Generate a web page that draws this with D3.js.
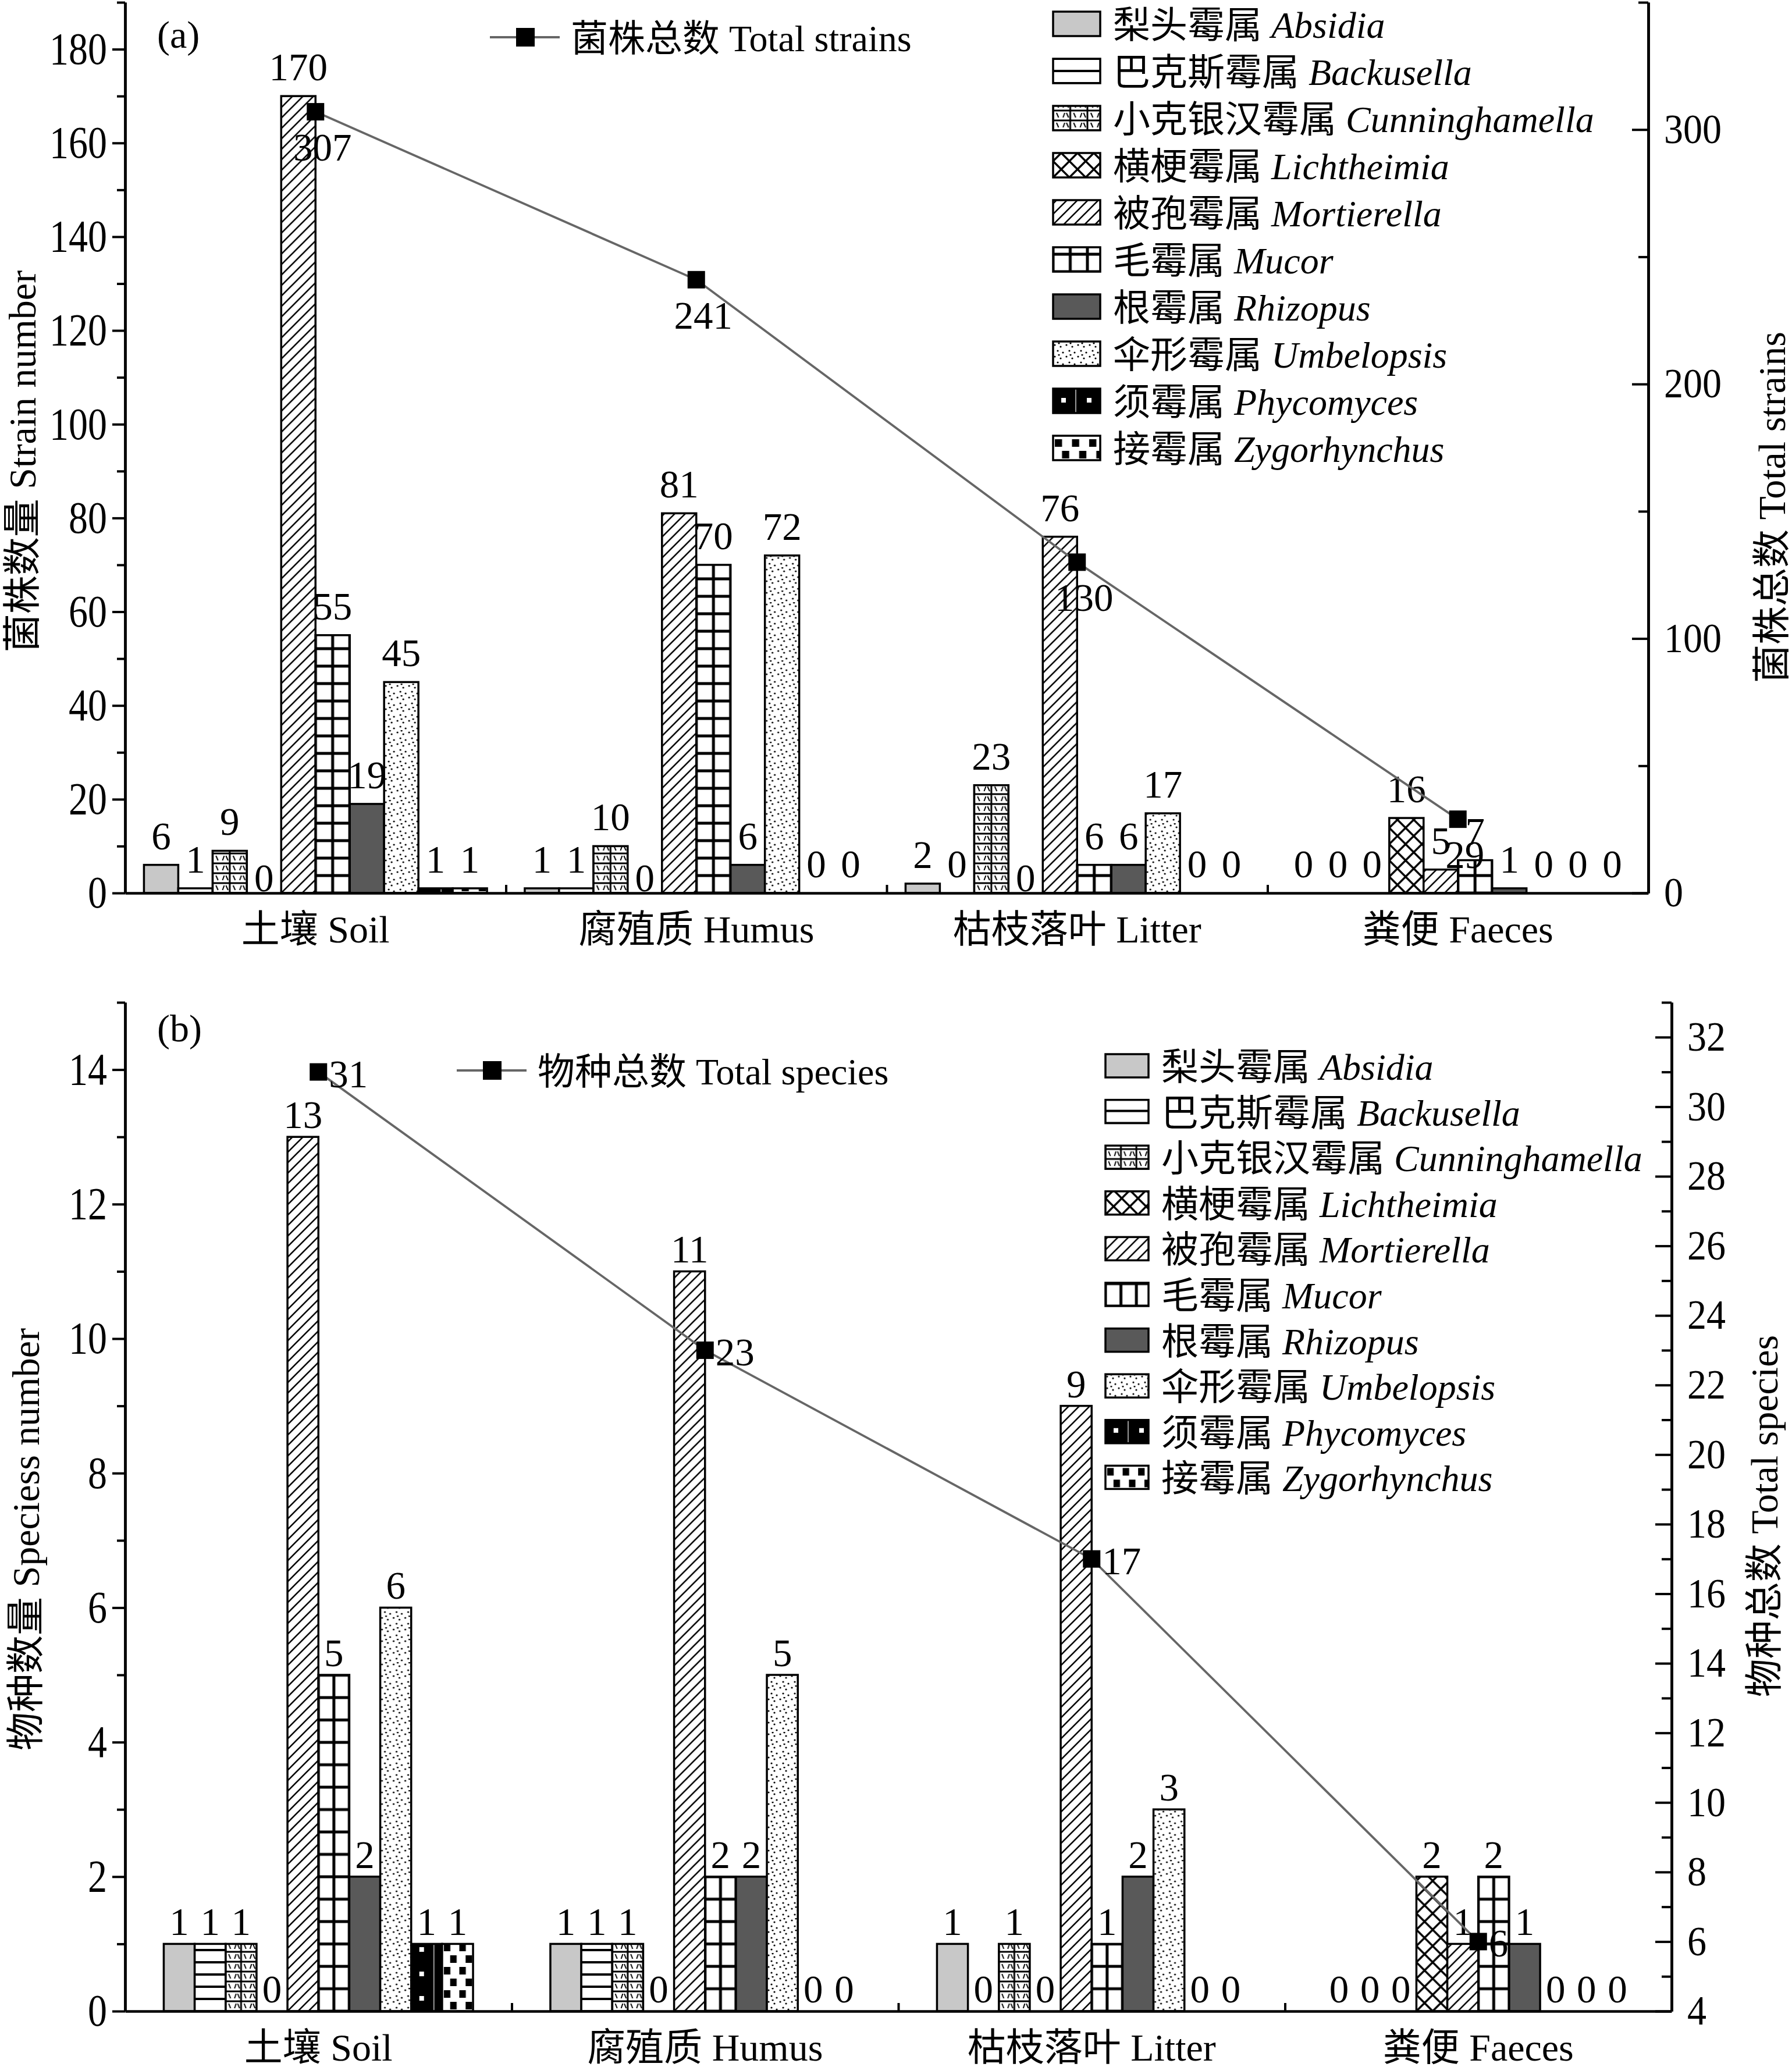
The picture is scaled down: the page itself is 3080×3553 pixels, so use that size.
<!DOCTYPE html>
<html>
<head>
<meta charset="utf-8">
<script src="https://cdn.jsdelivr.net/npm/d3@7"></script>
<style>
body { margin: 0; background: #fff; }
svg { display: block; }
text { font-family: "Liberation Serif", "Times New Roman", "Noto Sans CJK SC", serif; fill: #000; }
</style>
</head>
<body>
<svg id="chart" width="3080" height="3553"></svg>
<script>
// categories
var groups = ["土壤 Soil", "腐殖质 Humus", "枯枝落叶 Litter", "粪便 Faeces"];
var generaCn = ["梨头霉属", "巴克斯霉属", "小克银汉霉属", "横梗霉属", "被孢霉属", "毛霉属", "根霉属", "伞形霉属", "须霉属", "接霉属"];
var generaLatin = ["Absidia", "Backusella", "Cunninghamella", "Lichtheimia", "Mortierella", "Mucor", "Rhizopus", "Umbelopsis", "Phycomyces", "Zygorhynchus"];

// (a) strain numbers, one row per group, one value per genus
var strainCounts = [
  [6, 1, 9, 0, 170, 55, 19, 45, 1, 1],
  [1, 1, 10, 0, 81, 70, 6, 72, 0, 0],
  [2, 0, 23, 0, 76, 6, 6, 17, 0, 0],
  [0, 0, 0, 16, 5, 7, 1, 0, 0, 0]
];
var totalStrains = [307, 241, 130, 29];

// (b) species numbers
var speciesCounts = [
  [1, 1, 1, 0, 13, 5, 2, 6, 1, 1],
  [1, 1, 1, 0, 11, 2, 2, 5, 0, 0],
  [1, 0, 1, 0, 9, 1, 2, 3, 0, 0],
  [0, 0, 0, 2, 1, 2, 1, 0, 0, 0]
];
var totalSpecies = [31, 23, 17, 6];

// tick values
var strainTicks = [0, 20, 40, 60, 80, 100, 120, 140, 160, 180];
var strainMinor = [10, 30, 50, 70, 90, 110, 130, 150, 170, 190];
var totalStrainTicks = [0, 100, 200, 300];
var totalStrainMinor = [50, 150, 250, 350];
var speciesTicks = [0, 2, 4, 6, 8, 10, 12, 14];
var speciesMinor = [1, 3, 5, 7, 9, 11, 13, 15];
var totalSpeciesTicks = [4, 6, 8, 10, 12, 14, 16, 18, 20, 22, 24, 26, 28, 30, 32];
var totalSpeciesMinor = [5, 7, 9, 11, 13, 15, 17, 19, 21, 23, 25, 27, 29, 31, 33];

var svg = d3.select("#chart");
var defs = svg.append("defs");

// fill patterns, origin is the bottom-left of each bar (bars are drawn inside a translated g)
function makePatterns(sfx, bw, gridH) {
  function pat(name, w, h, bg) {
    var p = defs.append("pattern").attr("id", name + "-" + sfx).attr("patternUnits", "userSpaceOnUse")
      .attr("width", w).attr("height", h);
    p.append("rect").attr("width", w).attr("height", h).attr("fill", bg);
    return p;
  }
  // Backusella: horizontal lines
  var p = pat("hl", 20, 21, "#fff");
  p.append("path").attr("d", "M0,0H20M0,21H20").attr("stroke", "#000").attr("stroke-width", 4);
  // Cunninghamella: brick grid with small dashes
  var cw = bw / 2;
  p = pat("cu", cw, 17, "#fff");
  p.append("path").attr("d", "M0,0H" + cw + "M0,17H" + cw + "M0,0V17M" + cw + ",0V17")
    .attr("stroke", "#000").attr("stroke-width", 3);
  p.append("path").attr("d",
      "M" + cw * 0.2 + ",4L" + cw * 0.32 + ",12" +
      "M" + cw * 0.58 + ",12L" + cw * 0.68 + ",4" +
      "M" + cw * 0.78 + ",4L" + cw * 0.9 + ",12")
    .attr("stroke", "#000").attr("stroke-width", 2);
  // Lichtheimia: cross hatch
  p = pat("xh", 28, 28, "#fff");
  p.append("path").attr("d", "M0,0L28,28M28,0L0,28").attr("stroke", "#000").attr("stroke-width", 3.4);
  // Mortierella: diagonal lines
  p = pat("dg", 18, 18, "#fff");
  p.append("path").attr("d", "M0,18L18,0M-5,5L5,-5M13,23L23,13").attr("stroke", "#000").attr("stroke-width", 2.6);
  // Mucor: big grid
  p = pat("gr", cw, gridH, "#fff");
  p.append("path").attr("d", "M0,0H" + cw + "M0," + gridH + "H" + cw + "M0,0V" + gridH + "M" + cw + ",0V" + gridH)
    .attr("stroke", "#000").attr("stroke-width", 5);
  // Umbelopsis: stipple
  p = pat("dt", 20, 20, "#fff");
  [[3, 4], [13, 7], [8, 14], [17, 17], [10, 1]].forEach(function(c) {
    p.append("circle").attr("cx", c[0]).attr("cy", c[1]).attr("r", 1.6).attr("fill", "#000");
  });
  // Phycomyces: black with sparse white squares
  p = pat("ph", 44, 42, "#000");
  p.append("rect").attr("x", 14).attr("y", 16).attr("width", 8).attr("height", 8).attr("fill", "#fff");
  p.append("rect").attr("x", 38).attr("y", 0).attr("width", 2).attr("height", 42).attr("fill", "#fff").attr("opacity", 0.6);
  // Zygorhynchus: black blocks on white
  p = pat("zy", cw, 40, "#fff");
  p.append("rect").attr("x", 3).attr("y", 4).attr("width", cw * 0.42).attr("height", 13).attr("fill", "#000");
  p.append("rect").attr("x", cw * 0.52).attr("y", 24).attr("width", cw * 0.42).attr("height", 13).attr("fill", "#000");

  return ["#c8c8c8", "url(#hl-" + sfx + ")", "url(#cu-" + sfx + ")", "url(#xh-" + sfx + ")",
    "url(#dg-" + sfx + ")", "url(#gr-" + sfx + ")", "#595959", "url(#dt-" + sfx + ")",
    "url(#ph-" + sfx + ")", "url(#zy-" + sfx + ")"];
}

function styleAxis(sel, fs) {
  sel.attr("font-size", fs).attr("font-family", null);
  sel.select(".domain").attr("stroke", "#000").attr("stroke-width", 4.5);
  sel.selectAll(".tick line").attr("stroke", "#000").attr("stroke-width", 4);
}

function drawPanel(p) {
  var g = svg.append("g");
  var x = d3.scaleBand().domain(groups).range([p.x0, p.x1]);
  var xi = d3.scaleBand().domain(generaLatin).range([0, x.bandwidth()]).paddingOuter(p.padOuter);
  var yL = d3.scaleLinear().domain(p.leftDomain).range([p.yBottom, p.yTop]);
  var yR = d3.scaleLinear().domain(p.rightDomain).range([p.yBottom, p.yTop]);
  var bw = xi.bandwidth();
  var fills = makePatterns(p.id, bw, p.gridH);

  var cells = [];
  p.counts.forEach(function(row, i) {
    row.forEach(function(v, j) { cells.push({ g: groups[i], j: j, v: v }); });
  });

  // bars
  g.selectAll(".bar").data(cells.filter(function(d) { return d.v > 0; })).enter()
    .append("g").attr("class", "bar")
    .attr("transform", function(d) { return "translate(" + (x(d.g) + xi(generaLatin[d.j])) + "," + p.yBottom + ")"; })
    .append("rect")
    .attr("x", 0)
    .attr("y", function(d) { return yL(d.v) - p.yBottom; })
    .attr("width", bw)
    .attr("height", function(d) { return p.yBottom - yL(d.v); })
    .attr("fill", function(d) { return fills[d.j]; })
    .attr("stroke", "#000").attr("stroke-width", 3.5);

  // value labels
  g.selectAll(".vlab").data(cells).enter().append("text")
    .attr("x", function(d) { return x(d.g) + xi(generaLatin[d.j]) + bw / 2; })
    .attr("y", function(d) {
      var gap = (p.id === "a" && d.j === 3 && d.v === 0) ? 3 : p.labelGap;
      return yL(d.v) - gap;
    })
    .attr("text-anchor", "middle").attr("font-size", 67)
    .text(function(d) { return d.v; });

  // axes
  var axL = g.append("g").attr("transform", "translate(" + p.x0 + ",0)")
    .call(d3.axisLeft(yL).tickValues(p.leftTicks).tickSize(22).tickSizeOuter(0).tickPadding(9));
  styleAxis(axL, 66);
  axL.selectAll(".tick text").attr("transform", "scale(1,1.18)");
  var axLm = g.append("g").attr("transform", "translate(" + p.x0 + ",0)")
    .call(d3.axisLeft(yL).tickValues(p.leftMinor).tickSize(14).tickSizeOuter(0).tickFormat(""));
  styleAxis(axLm, 66);

  var axR = g.append("g").attr("transform", "translate(" + p.x1 + ",0)")
    .call(d3.axisRight(yR).tickValues(p.rightTicks).tickSize(-28).tickSizeOuter(0).tickPadding(27));
  styleAxis(axR, 66);
  axR.selectAll(".tick text").attr("transform", "scale(1,1.08)");
  var axRm = g.append("g").attr("transform", "translate(" + p.x1 + ",0)")
    .call(d3.axisRight(yR).tickValues(p.rightMinor).tickSize(-17).tickSizeOuter(0).tickFormat(""));
  styleAxis(axRm, 66);

  var xb = d3.scaleLinear().domain([0, groups.length]).range([p.x0, p.x1]);
  var axB = g.append("g").attr("transform", "translate(0," + p.yBottom + ")")
    .call(d3.axisBottom(xb).tickValues([1, 2, 3]).tickSize(-14).tickSizeOuter(0).tickFormat(""));
  styleAxis(axB, 66);
  var axBl = g.append("g").attr("transform", "translate(0," + p.yBottom + ")")
    .call(d3.axisBottom(x).tickSize(0).tickPadding(38));
  styleAxis(axBl, 66);
  axBl.select(".domain").remove();

  // total line with markers
  var line = d3.line()
    .x(function(d, i) { return x(groups[i]) + x.bandwidth() / 2; })
    .y(function(d) { return yR(d); });
  g.append("path").datum(p.totals).attr("d", line)
    .attr("fill", "none").attr("stroke", "#666").attr("stroke-width", 3.8);
  g.selectAll(".mk").data(p.totals).enter().append("rect")
    .attr("x", function(d, i) { return x(groups[i]) + x.bandwidth() / 2 - 15; })
    .attr("y", function(d) { return yR(d) - 15; })
    .attr("width", 30).attr("height", 30).attr("fill", "#000");
  g.selectAll(".tlab").data(p.totals).enter().append("text")
    .attr("x", function(d, i) { return x(groups[i]) + x.bandwidth() / 2 + p.totDx; })
    .attr("y", function(d) { return yR(d) + p.totDy; })
    .attr("text-anchor", p.totAnchor).attr("font-size", 67)
    .text(function(d) { return d; });

  // panel tag
  g.append("text").attr("x", 270).attr("y", p.tagY).attr("font-size", 66).text(p.tag);

  // axis titles
  g.append("text").attr("transform", "translate(" + p.leftTitleX + "," + p.leftTitleY + ") rotate(-90)")
    .attr("text-anchor", "middle").attr("dominant-baseline", "central").attr("font-size", 66)
    .text(p.leftTitle);
  g.append("text").attr("transform", "translate(" + p.rightTitleX + "," + p.rightTitleY + ") rotate(-90)")
    .attr("text-anchor", "middle").attr("dominant-baseline", "central").attr("font-size", 66)
    .text(p.rightTitle);

  // total legend
  g.append("line").attr("x1", p.totLegX).attr("x2", p.totLegX + 120)
    .attr("y1", p.totLegY).attr("y2", p.totLegY).attr("stroke", "#666").attr("stroke-width", 3.8);
  g.append("rect").attr("x", p.totLegX + 45).attr("y", p.totLegY - 16).attr("width", 32).attr("height", 32).attr("fill", "#000");
  g.append("text").attr("x", p.totLegX + 139).attr("y", p.totLegY + 24).attr("font-size", 64).text(p.totLegText);

  // genus legend
  generaLatin.forEach(function(name, j) {
    var cy = p.legY + j * p.legStep;
    g.append("g").attr("transform", "translate(" + p.legX + "," + (cy + p.boxH / 2) + ")")
      .append("rect").attr("y", -p.boxH).attr("width", p.boxW).attr("height", p.boxH)
      .attr("fill", fills[j]).attr("stroke", "#000").attr("stroke-width", 3.5);
    var t = g.append("text").attr("x", p.legX + p.boxW + 22).attr("y", cy + 24).attr("font-size", 64);
    t.append("tspan").text(generaCn[j] + " ");
    t.append("tspan").attr("font-style", "italic").text(name);
  });
}

drawPanel({
  id: "a", tag: "(a)", tagY: 82,
  counts: strainCounts, totals: totalStrains,
  x0: 215, x1: 2833, yTop: 4, yBottom: 1535,
  leftDomain: [0, 190], rightDomain: [0, 350],
  leftTicks: strainTicks, leftMinor: strainMinor,
  rightTicks: totalStrainTicks, rightMinor: totalStrainMinor,
  padOuter: 0.55, gridH: 30, labelGap: 27,
  totDx: 12, totDy: 84, totAnchor: "middle",
  leftTitle: "菌株数量 Strain number", leftTitleX: 38, leftTitleY: 793,
  rightTitle: "菌株总数 Total strains", rightTitleX: 3045, rightTitleY: 872,
  totLegX: 842, totLegY: 64, totLegText: "菌株总数 Total strains",
  legX: 1810, legY: 41, legStep: 81, boxW: 81, boxH: 42
});

drawPanel({
  id: "b", tag: "(b)", tagY: 1790,
  counts: speciesCounts, totals: totalSpecies,
  x0: 215, x1: 2873, yTop: 1723, yBottom: 3457,
  leftDomain: [0, 15], rightDomain: [4, 33],
  leftTicks: speciesTicks, leftMinor: speciesMinor,
  rightTicks: totalSpeciesTicks, rightMinor: totalSpeciesMinor,
  padOuter: 1.25, gridH: 38.5, labelGap: 15,
  totDx: 18, totDy: 26, totAnchor: "start",
  leftTitle: "物种数量 Speciess number", leftTitleX: 44, leftTitleY: 2646,
  rightTitle: "物种总数 Total species", rightTitleX: 3032, rightTitleY: 2606,
  totLegX: 785, totLegY: 1840, totLegText: "物种总数 Total species",
  legX: 1900, legY: 1832, legStep: 78.6, boxW: 74, boxH: 40
});
</script>
</body>
</html>
